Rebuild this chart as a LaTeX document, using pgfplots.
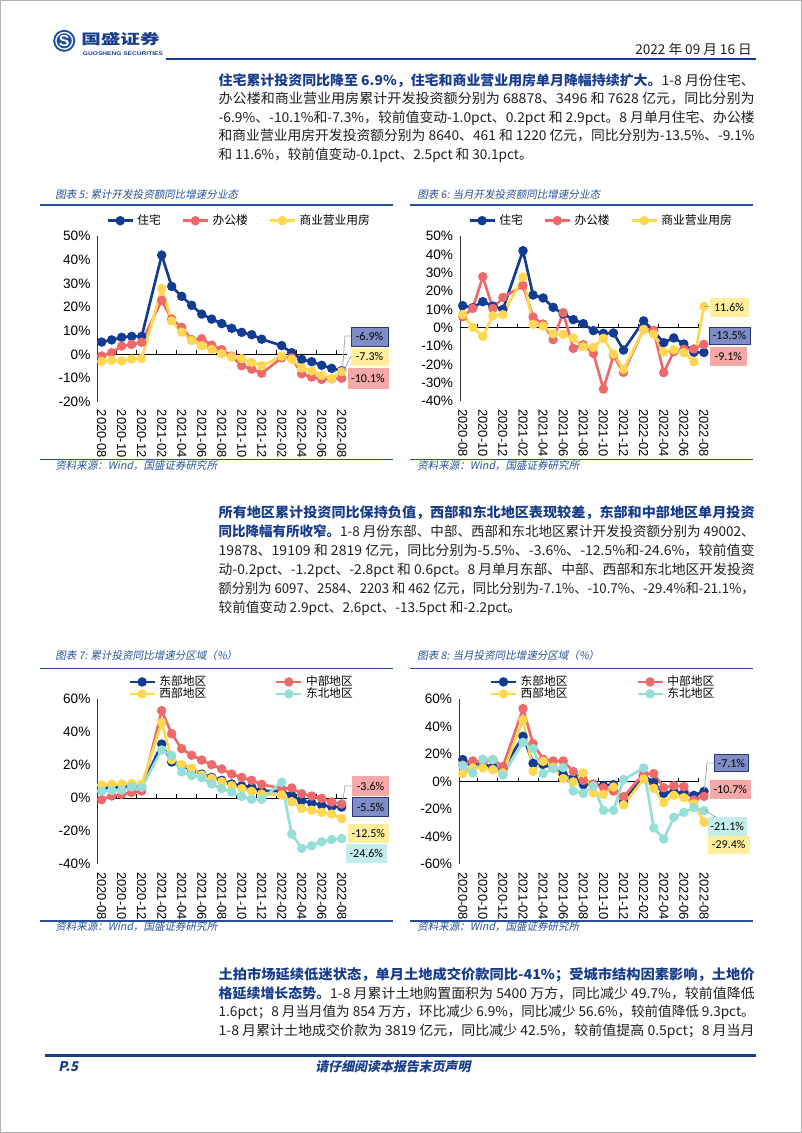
\documentclass[border=0pt]{standalone}
\usepackage{pgfplots}
\pgfplotsset{compat=1.18}
\usepackage{pgfplotstable}
\usepackage{fontspec}
\setmainfont{Noto Sans CJK SC}
\newfontfamily\arial{Liberation Sans}
\newfontfamily\calibri{Carlito}
\newfontfamily\cjkit[FakeSlant=0.2]{Noto Sans CJK SC}

\definecolor{cblue}{RGB}{18,60,145}
\definecolor{cred}{RGB}{238,106,106}
\definecolor{cyellow}{RGB}{255,215,80}
\definecolor{ccyan}{RGB}{150,222,216}
\definecolor{lblue}{RGB}{128,140,198}
\definecolor{lblueb}{RGB}{40,55,120}
\definecolor{lpink}{RGB}{244,168,168}
\definecolor{lyellow}{RGB}{255,238,158}
\definecolor{lcyan}{RGB}{196,237,233}
\definecolor{hblue}{RGB}{24,60,140}
\definecolor{tblue}{RGB}{40,80,150}
\definecolor{logoblue}{RGB}{30,75,165}
\definecolor{bodyc}{RGB}{30,30,30}

\newcommand\tickfont{\arial\fontsize{10.2pt}{11pt}\selectfont}
\newcommand\xtickfont{\arial\fontsize{9.7pt}{10pt}\selectfont}
\newcommand\legfont{\fontsize{8.8pt}{9pt}\selectfont}
\newcommand\titlefont{\cjkit\color{tblue}\fontsize{7.9pt}{8pt}\selectfont}
\newcommand\bodyfont{\color{bodyc}\fontsize{10.2pt}{12pt}\selectfont}
\newcommand\boxfont{\calibri\fontsize{9pt}{9pt}\selectfont}
\newcommand\hb[1]{{\color{hblue}\bfseries #1}}
\newcommand\jl[2]{\node[anchor=base west,inner sep=0pt] at (218.4,-#1) {\resizebox{402pt}{\height}{\bodyfont #2}};}
\newcommand\lastl[2]{\node[anchor=base west,inner sep=0pt] at (218.4,-#1) {\bodyfont #2};}
\newcommand\tagbox[6]{\filldraw[fill=#1,draw=#2,line width=0.6pt] (#3,-#4) rectangle (#5,-#6);}
\newcommand\zeroticks{\pgfplotsinvokeforeach{1.5,3.5,5.5,7.5,9.5,11.5,13.5,15.5,17.5,19.5,21.5,23.5}{\draw[black, line width=0.75pt] (axis cs:##1,0) -- ([yshift=3pt]axis cs:##1,0);}}

\pgfplotsset{
  chart/.style={
    scale only axis, clip=false,
    axis x line*=bottom, axis y line*=left,
    x axis line style={draw=none},
    y axis line style={draw=black!80, line width=0.75pt},
    xtick={0,2,...,24},
    xticklabels={2020-08,2020-10,2020-12,2021-02,2021-04,2021-06,2021-08,2021-10,2021-12,2022-02,2022-04,2022-06,2022-08},
    xticklabel style={yshift=-6pt, rotate=-90, anchor=west, inner sep=0pt, font=\xtickfont},
    yticklabel style={anchor=east, xshift=-5pt, inner sep=0pt, font=\tickfont},
    yticklabel={\pgfmathprintnumber{\tick}\%},
    /pgf/number format/assume math mode=true,
    major tick length=0pt,
    tick style={draw=none},
    legend cell align=left,
    legend style={draw=none, fill=none, anchor=center, font=\legfont,
      nodes={inner sep=0.5pt, text height=6.5pt, text depth=1.5pt}, row sep=0pt,
      /tikz/every odd column/.append style={column sep=2pt}},
    legend image code/.code={\draw[mark repeat=2,mark phase=2] plot coordinates {(0pt,0pt) (9.4pt,0pt) (18.8pt,0pt)};},
  },
  sb/.style={color=cblue, line width=2pt, mark=*, mark size=2.5pt},
  sr/.style={color=cred, line width=2pt, mark=*, mark size=2.5pt},
  sy/.style={color=cyellow, line width=2pt, mark=*, mark size=2.5pt},
  sc/.style={color=ccyan, line width=2pt, mark=*, mark size=2.5pt},
}

\begin{document}
\pgfplotstableread{
x a b c
0 5.2 -0.7 -3.0
1 6.1 0.7 -2.5
2 7.2 3.5 -2.8
3 7.6 4.2 -2.0
4 7.6 5.1 -1.7
6 41.9 22.8 27.7
7 28.7 14.9 14.1
8 24.5 11.4 9.4
9 20.7 6.2 5.9
10 17.0 6.6 3.7
11 14.9 3.9 2.1
12 13.0 2.0 0.3
13 11.0 -0.7 -1.1
14 9.3 -4.8 -1.8
15 8.3 -6.2 -3.4
16 6.4 -8.0 -4.8
18 3.7 -1.5 -0.8
19 0.7 -1.5 -2.1
20 -2.1 -8.2 -5.8
21 -3.1 -9.6 -7.0
22 -4.6 -10.6 -8.9
23 -5.9 -10.3 -10.2
24 -6.9 -10.1 -7.3
}\dfive
\pgfplotstableread{
x a b c
0 12.0 6.0 7.1
1 10.9 10.5 0.2
2 14.2 27.8 -4.7
3 11.8 10.5 6.5
4 10.0 16.5 7.1
6 42.0 22.9 27.6
7 17.8 5.8 1.8
8 16.2 2.0 0.9
9 11.1 -6.5 -3.3
10 7.5 8.2 -3.6
11 4.4 -11.3 -5.6
12 2.2 -9.3 -10.4
13 -1.6 -14.0 -10.7
14 -3.1 -33.5 -5.8
15 -2.9 -15.3 -14.4
16 -12.2 -24.4 -22.7
18 3.7 -0.9 -1.1
19 -1.8 -1.5 -3.5
20 -8.2 -24.5 -13.3
21 -5.6 -13.1 -12.0
22 -8.9 -11.8 -13.6
23 -13.4 -11.6 -18.5
24 -13.5 -9.1 11.6
}\dsix
\pgfplotstableread{
x a b c d
0 5.7 -1.0 7.9 4.2
1 6.3 1.2 8.3 4.6
2 6.7 2.2 8.5 4.8
3 6.9 3.4 8.7 6.7
4 6.5 4.2 8.3 6.5
6 32.7 52.9 45.7 29.1
7 21.8 39.0 23.2 25.7
8 19.8 29.9 20.2 15.8
9 17.0 25.9 18.0 13.7
10 14.5 23.0 13.9 12.3
11 12.5 20.2 11.9 8.5
12 10.7 17.6 9.9 5.7
13 8.5 14.5 7.5 3.6
14 7.5 12.5 5.7 1.0
15 6.5 10.7 4.0 -0.8
16 4.4 8.3 2.4 -0.8
18 4.2 5.7 1.8 9.5
19 1.6 6.1 -2.2 -21.8
20 -1.6 2.6 -6.3 -30.5
21 -3.0 1.2 -7.3 -28.9
22 -4.2 -0.2 -8.7 -26.5
23 -5.3 -2.4 -9.7 -25.2
24 -5.5 -3.6 -12.5 -24.6
}\dseven
\pgfplotstableread{
x a b c d
0 16.0 12.0 5.8 11.6
1 12.3 15.0 9.9 6.3
2 12.6 14.5 9.9 16.2
3 10.6 16.0 8.7 16.0
4 9.2 11.0 6.3 4.8
6 32.9 53.0 45.0 28.5
7 13.3 27.6 7.5 24.0
8 12.6 16.2 14.8 5.8
9 9.9 15.0 10.4 9.4
10 5.1 15.0 2.2 10.2
11 2.4 7.3 -0.2 -6.8
12 -2.2 1.0 6.3 -8.5
13 -1.9 -1.9 -8.2 -3.1
14 -2.9 -4.4 -9.2 -20.8
15 -2.2 -6.8 -3.9 -20.8
16 -14.5 -10.9 -16.9 1.5
18 4.4 5.8 1.9 9.9
19 -0.5 5.8 -4.8 -33.6
20 -8.5 -4.4 -15.2 -41.6
21 -7.0 -2.9 -9.9 -25.9
22 -8.7 -3.6 -11.6 -22.3
23 -10.0 -13.3 -15.9 -18.9
24 -7.1 -10.7 -29.4 -21.1
}\deight

\begin{tikzpicture}[x=0.75pt,y=0.75pt]
\useasboundingbox (0,0) rectangle (802,-1133);
\draw[gray!60, line width=0.75pt] (0.5,-0.5) rectangle (801.5,-1132.5);

% ---------- header ----------
\fill[logoblue] (64.2,-40.8) circle (11);
\draw[white, line width=1pt] (64.2,-40.8) circle (8.3);
\node[white] at (64.2,-40.8) {\arial\bfseries\fontsize{12pt}{12pt}\selectfont S};
\node[anchor=west, inner sep=0pt] at (81,-39.3) {\scalebox{1.4}[1]{\color{hblue}\bfseries\fontsize{10.5pt}{11pt}\selectfont 国盛证券}};
\node[anchor=west, inner sep=0pt] at (82.7,-53.3) {\color{hblue}\resizebox{60pt}{2.8pt}{\arial\bfseries GUOSHENG SECURITIES}};
\node[anchor=base east, inner sep=0pt] at (752,-54) {\bodyfont 2022 年 09 月 16 日};
\draw[hblue, line width=1.5pt] (166,-59.3) -- (756,-59.3);

% ---------- paragraph 1 ----------
\jl{85}{\hb{住宅累计投资同比降至 6.9\%，住宅和商业营业用房单月降幅持续扩大。}1-8 月份住宅、}
\jl{103.6}{办公楼和商业营业用房累计开发投资额分别为 68878、3496 和 7628 亿元，同比分别为}
\jl{122.2}{-6.9\%、-10.1\%和-7.3\%，较前值变动-1.0pct、0.2pct 和 2.9pct。8 月单月住宅、办公楼}
\jl{140.8}{和商业营业用房开发投资额分别为 8640、461 和 1220 亿元，同比分别为-13.5\%、-9.1\%}
\lastl{159.4}{和 11.6\%，较前值变动-0.1pct、2.5pct 和 30.1pct。}

% ---------- chart titles / sources (5,6) ----------
\node[anchor=west, inner sep=0pt] at (55,-194) {\titlefont 图表 5: 累计开发投资额同比增速分业态};
\node[anchor=west, inner sep=0pt] at (417,-194) {\titlefont 图表 6: 当月开发投资额同比增速分业态};
\draw[tblue, line width=1.2pt] (40,-205) -- (393,-205);
\draw[tblue, line width=1.2pt] (410,-205) -- (753,-205);
\draw[tblue, line width=1pt] (40,-459.3) -- (393,-459.3);
\draw[tblue, line width=1pt] (410,-459.3) -- (753,-459.3);
\node[anchor=west, inner sep=0pt] at (55,-466) {\titlefont 资料来源：Wind，国盛证券研究所};
\node[anchor=west, inner sep=0pt] at (417,-466) {\titlefont 资料来源：Wind，国盛证券研究所};

% ---------- chart 5 ----------
\begin{axis}[chart, at={(72.975pt,-301.275pt)}, width=187.05pt, height=124.3pt,
  xmin=-0.44, xmax=24.5, ymin=-20, ymax=50, ytick={-20,-10,...,50},
  legend columns=3, legend style={at={(0.566,1.092)}, /tikz/every even column/.append style={column sep=15pt}}]
\draw[black, line width=0.75pt] (axis cs:-0.44,0) -- (axis cs:24.5,0);
\zeroticks
\addplot[sb] table[x=x,y=a]{\dfive}; \addlegendentry{住宅}
\addplot[sr] table[x=x,y=b]{\dfive}; \addlegendentry{办公楼}
\addplot[sy] table[x=x,y=c]{\dfive}; \addlegendentry{商业营业用房}
\end{axis}
\draw[gray!70, line width=0.6pt] (351,-336) -- (345,-336) -- (342.5,-369);
\draw[gray!70, line width=0.6pt] (351,-356) -- (344,-370);
\tagbox{lblue}{lblueb}{351}{327}{388}{346}
\tagbox{lyellow}{lyellow}{351}{348}{388}{365}
\tagbox{lpink}{lpink}{348}{368}{388}{388}
\node at (369.5,-336.5) {\boxfont -6.9\%};
\node at (369.5,-356.5) {\boxfont -7.3\%};
\node at (368,-378) {\boxfont -10.1\%};

% ---------- chart 6 ----------
\begin{axis}[chart, at={(345pt,-300.75pt)}, width=186.7pt, height=123.75pt,
  xmin=-0.27, xmax=24.5, ymin=-40, ymax=50, ytick={-40,-30,...,50},
  legend columns=3, legend style={at={(0.564,1.093)}, /tikz/every even column/.append style={column sep=15pt}}]
\draw[black, line width=0.75pt] (axis cs:-0.27,0) -- (axis cs:23.5,0);
\zeroticks
\addplot[sb] table[x=x,y=a]{\dsix}; \addlegendentry{住宅}
\addplot[sr] table[x=x,y=b]{\dsix}; \addlegendentry{办公楼}
\addplot[sy] table[x=x,y=c]{\dsix}; \addlegendentry{商业营业用房}
\end{axis}
\draw[gray!70, line width=0.6pt] (704,-306.5) -- (710,-306.5);
\tagbox{lyellow}{lyellow}{710}{298}{748}{316}
\tagbox{lblue}{lblueb}{709}{327}{750}{344}
\tagbox{lpink}{lpink}{710.7}{347}{746}{365}
\node at (729,-307) {\boxfont 11.6\%};
\node at (729.5,-335.5) {\boxfont -13.5\%};
\node at (728.3,-356) {\boxfont -9.1\%};

% ---------- paragraph 2 ----------
\jl{517.7}{\hb{所有地区累计投资同比保持负值，西部和东北地区表现较差，东部和中部地区单月投资}}
\jl{536.6}{\hb{同比降幅有所收窄。}1-8 月份东部、中部、西部和东北地区累计开发投资额分别为 49002、}
\jl{555.4}{19878、19109 和 2819 亿元，同比分别为-5.5\%、-3.6\%、-12.5\%和-24.6\%，较前值变}
\jl{574.3}{动-0.2pct、-1.2pct、-2.8pct 和 0.6pct。8 月单月东部、中部、西部和东北地区开发投资}
\jl{593.1}{额分别为 6097、2584、2203 和 462 亿元，同比分别为-7.1\%、-10.7\%、-29.4\%和-21.1\%，}
\lastl{612}{较前值变动 2.9pct、2.6pct、-13.5pct 和-2.2pct。}

% ---------- chart titles / sources (7,8) ----------
\node[anchor=west, inner sep=0pt] at (55,-655.7) {\titlefont 图表 7: 累计投资同比增速分区域（\%）};
\node[anchor=west, inner sep=0pt] at (417,-655.7) {\titlefont 图表 8: 当月投资同比增速分区域（\%）};
\draw[tblue, line width=1.2pt] (40,-668.3) -- (393,-668.3);
\draw[tblue, line width=1.2pt] (410,-668.3) -- (753,-668.3);
\draw[tblue, line width=1pt] (40,-921) -- (393,-921);
\draw[tblue, line width=1pt] (410,-921) -- (753,-921);
\node[anchor=west, inner sep=0pt] at (55,-927) {\titlefont 资料来源：Wind，国盛证券研究所};
\node[anchor=west, inner sep=0pt] at (417,-927) {\titlefont 资料来源：Wind，国盛证券研究所};

% ---------- chart 7 ----------
\begin{axis}[chart, at={(72.975pt,-648pt)}, width=187.05pt, height=123.75pt,
  xmin=-0.44, xmax=24.5, ymin=-40, ymax=60, ytick={-40,-20,...,60},
  legend columns=2, legend style={at={(0.576,1.067)}, /tikz/every even column/.append style={column sep=51pt}}]
\draw[black, line width=0.75pt] (axis cs:-0.44,0) -- (axis cs:24.5,0);
\zeroticks
\addplot[sb] table[x=x,y=a]{\dseven}; \addlegendentry{东部地区}
\addplot[sr] table[x=x,y=b]{\dseven}; \addlegendentry{中部地区}
\addplot[sy] table[x=x,y=c]{\dseven}; \addlegendentry{西部地区}
\addplot[sc] table[x=x,y=d]{\dseven}; \addlegendentry{东北地区}
\end{axis}
\draw[gray!70, line width=0.6pt] (352.7,-786) -- (345,-786) -- (342.5,-803);
\tagbox{lpink}{lpink}{352.7}{776.7}{388.3}{795}
\tagbox{lblue}{lblueb}{352.7}{797.7}{388.3}{816}
\tagbox{lyellow}{lyellow}{348.3}{824.3}{388.3}{842.3}
\tagbox{lcyan}{lcyan}{346}{844.3}{386.7}{862.7}
\node at (370.5,-786) {\boxfont -3.6\%};
\node at (370.5,-807) {\boxfont -5.5\%};
\node at (368.3,-833.3) {\boxfont -12.5\%};
\node at (366.3,-853.5) {\boxfont -24.6\%};

% ---------- chart 8 ----------
\begin{axis}[chart, at={(344.25pt,-648.225pt)}, width=187.5pt, height=124pt,
  xmin=-0.37, xmax=24.5, ymin=-60, ymax=60, ytick={-60,-40,...,60},
  legend columns=2, legend style={at={(0.573,1.067)}, /tikz/every even column/.append style={column sep=51pt}}]
\draw[black, line width=0.75pt] (axis cs:-0.37,0) -- (axis cs:23.5,0);
\zeroticks
\addplot[sb] table[x=x,y=a]{\deight}; \addlegendentry{东部地区}
\addplot[sr] table[x=x,y=b]{\deight}; \addlegendentry{中部地区}
\addplot[sy] table[x=x,y=c]{\deight}; \addlegendentry{西部地区}
\addplot[sc] table[x=x,y=d]{\deight}; \addlegendentry{东北地区}
\end{axis}
\draw[gray!70, line width=0.6pt] (714.3,-763) -- (707,-763) -- (704.5,-789);
\draw[gray!70, line width=0.6pt] (705,-810) -- (716,-817.3);
\tagbox{lblue}{lblueb}{714.3}{754}{748.3}{771.7}
\tagbox{lpink}{lpink}{710.7}{780}{750}{798.3}
\tagbox{lcyan}{lcyan}{708.3}{817.3}{746}{836}
\tagbox{lyellow}{lyellow}{708}{836}{749.3}{853.3}
\node at (731.3,-763) {\boxfont -7.1\%};
\node at (730.3,-789.2) {\boxfont -10.7\%};
\node at (727.2,-826.7) {\boxfont -21.1\%};
\node at (728.7,-844.7) {\boxfont -29.4\%};

% ---------- paragraph 3 ----------
\jl{979.3}{\hb{土拍市场延续低迷状态，单月土地成交价款同比-41\%；受城市结构因素影响，土地价}}
\jl{998.1}{\hb{格延续增长态势。}1-8 月累计土地购置面积为 5400 万方，同比减少 49.7\%，较前值降低}
\jl{1016.9}{1.6pct；8 月当月值为 854 万方，环比减少 6.9\%，同比减少 56.6\%，较前值降低 9.3pct。}
\jl{1035.7}{1-8 月累计土地成交价款为 3819 亿元，同比减少 42.5\%，较前值提高 0.5pct；8 月当月}

% ---------- footer ----------
\draw[hblue, line width=2pt] (45,-1055.7) -- (756,-1055.7);
\node[anchor=west, inner sep=0pt] at (58,-1066.7) {\cjkit\bfseries\color{hblue}\fontsize{10pt}{10pt}\selectfont P.5};
\node[inner sep=0pt] at (393,-1067) {\cjkit\bfseries\color{hblue}\fontsize{9.7pt}{10pt}\selectfont 请仔细阅读本报告末页声明};
\end{tikzpicture}
\end{document}
